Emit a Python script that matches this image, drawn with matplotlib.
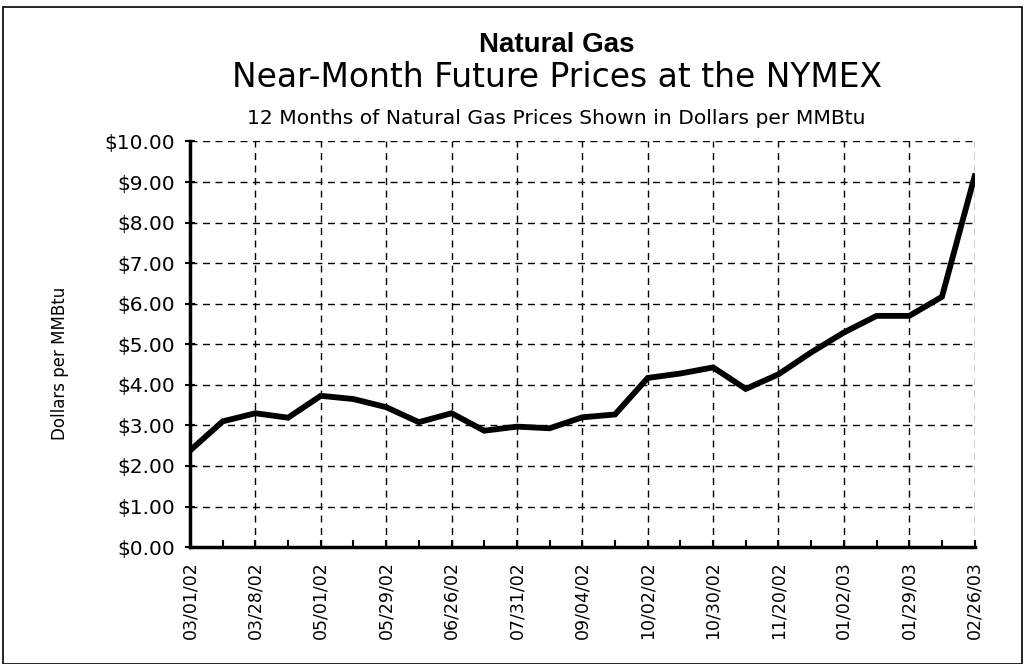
import matplotlib
matplotlib.use("Agg")
import matplotlib.pyplot as plt
from matplotlib.patches import Rectangle

# near-month price, roughly every two weeks
prices = [2.38, 3.10, 3.30, 3.19, 3.73, 3.65, 3.45, 3.08, 3.30, 2.87,
          2.97, 2.93, 3.20, 3.27, 4.17, 4.28, 4.43, 3.90, 4.26, 4.80,
          5.29, 5.70, 5.70, 6.17, 9.14]
date_labels = ['03/01/02', '03/28/02', '05/01/02', '05/29/02', '06/26/02',
               '07/31/02', '09/04/02', '10/02/02', '10/30/02', '11/20/02',
               '01/02/03', '01/29/03', '02/26/03']
y_ticks = [0, 1, 2, 3, 4, 5, 6, 7, 8, 9, 10]

plt.rcParams['font.family'] = ['DejaVu Sans']

fig = plt.figure(figsize=(10.27, 6.64), dpi=100)
ax = fig.add_axes([0.185, 0.176, 0.764, 0.611])

x = list(range(len(prices)))
ax.plot(x, prices, color='black', lw=4.2, solid_joinstyle='miter')

ax.set_xlim(0, len(prices) - 1)
ax.set_ylim(0, 10)
ax.set_xticks(x[::2])
ax.set_xticklabels(date_labels, rotation=90, fontsize=12.5)
ax.set_xticks(x, minor=True)
ax.set_yticks(y_ticks)
ax.set_yticklabels(['$%.2f' % v for v in y_ticks], fontsize=14.5)

ax.tick_params(axis='x', which='both', direction='in', length=5, width=1.5, pad=10)
ax.tick_params(axis='y', direction='inout', length=7, width=1.5, pad=7)

ax.grid(True, which='major', color='black', ls=(0, (5, 4)), lw=1.0)
ax.set_axisbelow(True)
for s in ['top', 'right']:
    ax.spines[s].set_visible(False)
for s in ['left', 'bottom']:
    ax.spines[s].set_linewidth(2.5)

ax.set_ylabel('Dollars per MMBtu', fontsize=12)
ax.yaxis.set_label_coords(-0.154, 0.454)

cx = 0.542
fig.text(cx, 0.932, 'Natural Gas', ha='center', va='center',
         fontsize=20, fontweight='bold', family='Liberation Sans')
fig.text(cx, 0.884, 'Near-Month Future Prices at the NYMEX', ha='center',
         va='center', fontsize=23.7)
fig.text(cx, 0.822, '12 Months of Natural Gas Prices Shown in Dollars per MMBtu',
         ha='center', va='center', fontsize=14.6)

fig.patches.append(Rectangle((0.003, 0.0), 0.992, 0.99, transform=fig.transFigure,
                             fill=False, edgecolor='black', lw=1.2))

fig.savefig('out.png', dpi=100)
